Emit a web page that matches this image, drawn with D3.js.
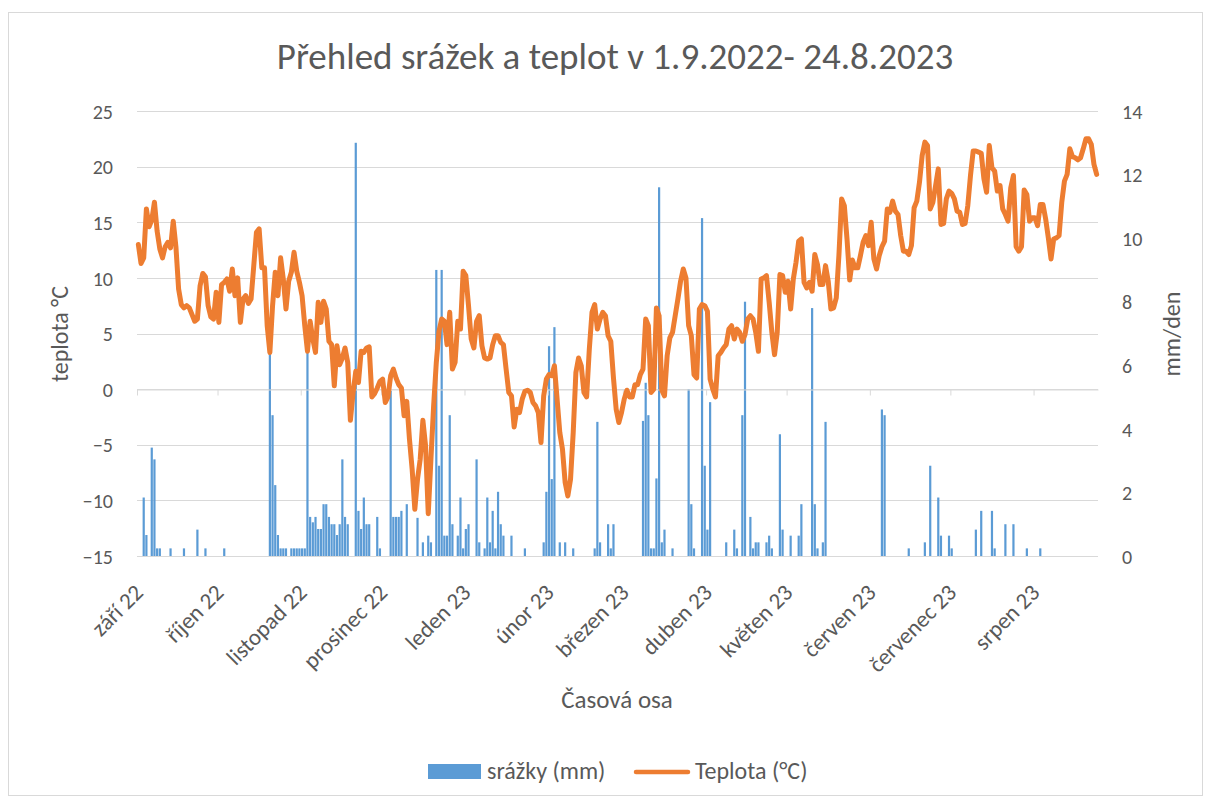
<!DOCTYPE html>
<html><head><meta charset="utf-8">
<script src="https://cdn.jsdelivr.net/npm/d3@7"></script>
<style>
body{margin:0;background:#fff}
svg text{font-family: Carlito, Calibri, Lato, sans-serif; fill:#595959}
</style>
</head><body>
<svg id="chart" width="1210" height="802"></svg>
<script>
const titleText = "Přehled srážek a teplot v 1.9.2022- 24.8.2023";
const startDate = [2022, 8, 1];
const monthLabels = ["září 22","říjen 22","listopad 22","prosinec 22","leden 23","únor 23","březen 23","duben 23","květen 23","červen 23","červenec 23","srpen 23"];
const leftTicks = [-15,-10,-5,0,5,10,15,20,25];
const rightTicks = [0,2,4,6,8,10,12,14];
const seriesNames = ["srážky (mm)","Teplota (°C)"];

// daily mean temperature (°C), 1.9.2022 – 24.8.2023
const temperature = [
13.0,11.3,11.8,16.2,14.6,15.2,16.8,14.2,12.6,11.8,
12.8,13.2,12.7,15.1,12.8,9.0,7.6,7.3,7.5,7.3,
6.7,6.1,6.3,9.3,10.4,10.1,7.5,6.5,6.3,8.7,
6.0,9.4,9.6,9.9,8.8,10.8,8.4,10.0,6.0,8.1,
8.4,7.7,8.1,11.1,14.1,14.4,10.9,10.9,5.7,3.3,
7.5,10.5,8.4,11.8,9.9,7.2,9.7,10.5,12.3,10.6,
9.6,8.4,5.7,3.4,6.1,4.5,3.3,7.8,6.0,7.9,
7.2,4.3,4.0,0.3,3.9,2.2,2.8,3.7,2.4,-2.8,
-0.3,1.6,0.6,3.4,3.3,3.7,3.8,-0.7,-0.4,0.1,
0.7,0.9,-1.2,-0.7,1.2,1.8,1.0,0.4,0.1,-2.4,
-1.1,-4.5,-7.2,-10.8,-8.1,-6.3,-2.8,-5.1,-11.2,-6.3,
-1.5,2.4,5.2,6.3,6.1,4.0,6.9,1.8,2.4,6.1,
5.4,10.6,10.2,7.5,4.5,3.7,6.1,6.6,3.9,2.8,
2.7,2.8,4.0,4.8,4.8,4.2,4.0,1.8,-0.3,-0.6,
-3.4,-1.8,-2.1,-0.9,-0.2,-0.1,-0.3,-1.2,-1.5,-2.1,
-4.8,-0.6,0.9,1.3,1.2,2.1,-0.9,-3.9,-5.4,-8.4,
-9.6,-8.1,-3.9,1.5,2.8,2.1,-0.3,-0.7,3.6,6.9,
7.6,5.4,6.3,6.9,6.6,4.8,4.3,1.0,-1.8,-3.0,
-2.1,-0.9,-0.1,-0.7,-0.7,0.4,0.4,1.3,1.8,6.3,
5.7,-0.3,0.0,7.3,6.6,-0.1,-0.6,3.0,4.6,5.1,
6.6,8.1,9.7,10.8,10.0,5.7,4.8,1.3,1.0,7.2,
7.6,7.5,7.0,0.9,0.0,-0.7,3.0,3.3,3.7,4.0,
5.4,5.7,4.5,5.4,5.1,4.3,4.9,6.3,6.6,6.3,
5.1,3.4,9.9,10.0,10.2,7.8,5.1,3.1,5.1,10.3,
10.2,8.7,9.7,7.2,9.9,11.4,13.3,13.5,9.6,9.1,
9.6,8.8,12.1,11.2,9.4,9.4,11.1,9.7,7.2,7.3,
8.2,12.1,17.1,16.5,13.5,9.8,11.6,10.9,10.9,12.0,
13.2,13.8,12.9,15.0,11.7,10.8,12.0,12.8,13.3,16.2,
15.9,16.9,16.0,15.7,13.8,12.4,12.4,12.1,12.9,16.3,
16.9,18.6,21.0,22.2,21.9,16.2,16.8,18.3,19.8,14.8,
14.9,17.1,17.8,17.6,17.1,16.0,15.9,14.8,14.9,16.5,
19.2,21.4,21.4,21.3,21.2,18.9,17.7,21.9,19.9,19.6,
17.8,18.3,16.2,15.7,15.1,18.1,19.2,12.8,12.4,12.8,
17.9,17.5,15.1,15.4,15.4,14.7,16.6,16.6,15.3,13.6,
11.7,13.5,13.6,13.8,16.8,18.7,19.3,21.6,20.9,20.8,
20.6,20.8,21.6,22.5,22.5,22.0,20.2,19.3
];

// daily precipitation (mm/den)
const precipitation = [
0,0,1.84,0.66,0,3.41,3.04,0.24,0.24,0,
0,0,0.24,0,0,0,0,0.24,0,0,
0,0,0.83,0,0,0.24,0,0,0,0,
0,0,0.24,0,0,0,0,0,0,0,
0,0,0,0,0,0,0,0,0,6.6,
4.43,2.23,0.66,0.24,0.24,0.24,0,0.24,0.24,0.24,
0.24,0.24,0.24,6.4,1.23,1.06,1.23,0.85,0.85,1.63,
1.63,1.23,1.0,1.0,0.66,1.0,3.04,1.23,1.0,0,
0,13.0,1.42,0.85,1.84,1.0,1.0,0,0,1.23,
0.24,0,0,0,5.2,1.23,1.23,1.23,1.42,0,
1.63,0,0,0,1.2,0,0.43,0,0.64,0.43,
0,9.0,2.84,9.0,0.64,0.64,4.43,1.0,0,0.64,
1.84,0.24,0.85,1.0,0,0,3.04,0.43,0,0.24,
1.84,0.43,1.42,0.24,2.02,1.0,0.64,0,0,0.64,
0,0,0,0,0.24,0,0,0,0,0,
0,0.43,2.02,6.6,2.42,7.2,0,0.43,0,0.43,
0,0,0.24,0,0,0,0,0,0,0,
0.24,4.22,0.43,0,0,1.0,0.24,1.0,0,0,
0,0,0,0,0,0,0,0,4.25,5.45,
4.43,0.24,0.24,2.44,11.6,0.43,0.83,0,0,0.24,
0,0,0,0,0,5.24,1.63,0.24,0,0,
10.63,2.84,0.83,4.84,0,0,0,0,0,0.43,
0,0,0.83,0.24,0,4.43,8.0,0,1.23,0.24,
0.43,0.43,0,0,0.43,0.64,0.24,0,0,3.83,
0.83,0,0,0.64,0,0,0.64,1.63,0,0,
0,7.8,1.63,0.24,0,0.43,4.22,0,0,0,
0,0,0,0,0,0,0,0,0,0,
0,0,0,0,0,0,0,4.61,4.43,0,
0,0,0,0,0,0,0,0.24,0,0,
0,0,0,0.43,0,2.84,0,0,1.84,0.64,
0,0,0.64,0.24,0,0,0,0,0,0,
0,0,0.83,0,1.42,0,0,0,1.42,0.24,
0,0,0,1.0,0,0,1.0,0,0,0,
0,0.24,0,0,0,0,0.24,0,0,0,
0,0,0,0,0,0,0,0,0,0,
0,0,0,0,0,0,0,0
];

const N = temperature.length;
const day0 = new Date(startDate[0], startDate[1], startDate[2]);
const dates = d3.range(N).map(i => d3.timeDay.offset(day0, i));
const monthStarts = dates.map((d,i)=> d.getDate()===1 ? i : -1).filter(i=>i>=0);

const svg = d3.select("#chart");
const W = 1210, H = 802;
const plot = {left:137, right:1098, top:111, bottom:556};

svg.append("rect").attr("width",W).attr("height",H).attr("fill","#fff");
svg.append("rect").attr("x",8.5).attr("y",12.5).attr("width",1194).attr("height",783)
  .attr("fill","none").attr("stroke","#d9d9d9").attr("stroke-width",1);

const x = d3.scaleLinear().domain([0,N]).range([plot.left, plot.right]);
const yT = d3.scaleLinear().domain([-15,25]).range([plot.bottom, plot.top]);
const yP = d3.scaleLinear().domain([0,14]).range([plot.bottom, plot.top]);

// gridlines
svg.append("g").selectAll("line").data(leftTicks).join("line")
  .attr("x1",plot.left).attr("x2",plot.right)
  .attr("y1",d=>Math.round(yT(d))+0.5).attr("y2",d=>Math.round(yT(d))+0.5)
  .attr("stroke","#d9d9d9").attr("stroke-width",1);

// left axis labels
const gl = svg.append("g").attr("transform",`translate(${plot.left},0)`)
  .call(d3.axisLeft(yT).tickValues(leftTicks).tickSize(0).tickPadding(24));
gl.select(".domain").remove();
gl.selectAll("text").style("font-size","20px").attr("dy","0.36em");

// right axis labels
const gr = svg.append("g").attr("transform",`translate(${plot.right},0)`)
  .call(d3.axisRight(yP).tickValues(rightTicks).tickSize(0).tickPadding(24));
gr.select(".domain").remove();
gr.selectAll("text").style("font-size","20px").attr("dy","0.36em");

// bars
const bw = 2.2;
svg.append("g").selectAll("rect").data(precipitation).join("rect")
  .attr("x",(d,i)=> x(i+0.5)-bw/2)
  .attr("width",bw)
  .attr("y",d=>yP(d))
  .attr("height",d=>yP(0)-yP(d))
  .attr("fill","#5b9bd5");

// x axis line at 0 °C
const gx = svg.append("g").attr("transform",`translate(0,${Math.round(yT(0))+0.5})`)
  .call(d3.axisBottom(x).tickValues(monthStarts).tickSize(6).tickSizeOuter(0).tickFormat(""));
gx.select(".domain").attr("stroke","#d9d9d9");
gx.selectAll(".tick line").attr("stroke","#d9d9d9");

// x labels at bottom
const gxl = svg.append("g").attr("transform",`translate(0,${plot.bottom})`)
  .call(d3.axisBottom(x).tickValues(monthStarts).tickSize(0).tickFormat((d,i)=>monthLabels[i]));
gxl.select(".domain").remove();
gxl.selectAll("text").style("font-size","23px")
  .attr("y",0).attr("dy",0).attr("text-anchor","end")
  .attr("transform","translate(7,38) rotate(-45)");

// temperature line
const line = d3.line().x((d,i)=>x(i+0.5)).y(d=>yT(d));
svg.append("path").datum(temperature).attr("d",line)
  .attr("fill","none").attr("stroke","#ed7d31").attr("stroke-width",5)
  .attr("stroke-linejoin","round").attr("stroke-linecap","round");

// titles
svg.append("text").attr("x",615).attr("y",69).attr("text-anchor","middle")
  .style("font-size","37px").text(titleText);
svg.append("text").attr("transform","translate(68,334) rotate(-90)").attr("text-anchor","middle")
  .style("font-size","24px").text("teplota °C");
svg.append("text").attr("transform","translate(1180,334) rotate(-90)").attr("text-anchor","middle")
  .style("font-size","24px").text("mm/den");
svg.append("text").attr("x",617).attr("y",708).attr("text-anchor","middle")
  .style("font-size","25px").text("Časová osa");

// legend
svg.append("rect").attr("x",428).attr("y",764).attr("width",53).attr("height",15).attr("fill","#5b9bd5");
svg.append("text").attr("x",487).attr("y",779).style("font-size","24px").text(seriesNames[0]);
svg.append("line").attr("x1",636).attr("x2",688).attr("y1",772).attr("y2",772)
  .attr("stroke","#ed7d31").attr("stroke-width",4.5).attr("stroke-linecap","round");
svg.append("text").attr("x",695).attr("y",779).style("font-size","24px").text(seriesNames[1]);
</script>
</body></html>
